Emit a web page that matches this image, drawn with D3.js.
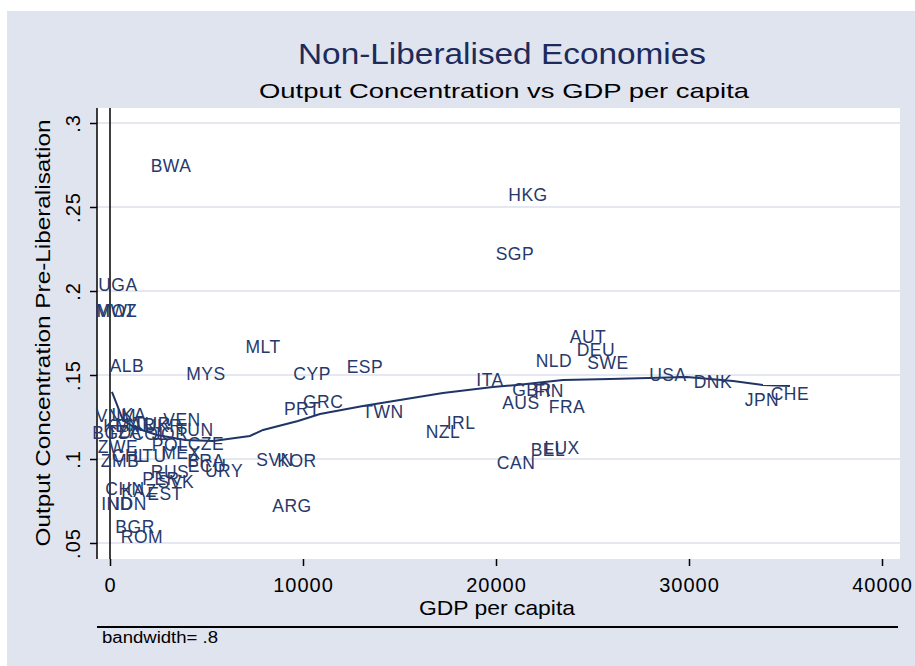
<!DOCTYPE html>
<html>
<head>
<meta charset="utf-8">
<script src="https://cdn.jsdelivr.net/npm/d3@7/dist/d3.min.js"></script>
<style>
body{margin:0;background:#fff}
text{font-family:"Liberation Sans",Arial,sans-serif}
</style>
</head>
<body>
<svg width="915" height="666"></svg>
<script>
// country labels with GDP per capita and output concentration
const countries = ['BWA','HKG','SGP','UGA','MWI','MOZ','ALB','MYS','MLT','CYP','ESP','PRT','GRC','TWN','NZL','IRL','SVN','KOR','ARG','URY',
  'ITA','AUT','DEU','NLD','SWE','GBR','FIN','AUS','FRA','BEL','LUX','CAN','USA','DNK','JPN','CHE',
  'VNM','LKA','KEN','MAR','TUR','UKR','VEN','BGD','TZA','COL','JOR','TUN','ZWE','POL','CZE','ZMB','CHL','LTU','MEX','BRA','ECU',
  'RUS','PER','SVK','CHN','KAZ','EST','IND','IDN','BGR','ROM']
const gdp = [3160,21660,20980,410,210,360,880,4970,7930,10470,13210,9950,11040,14140,17250,18190,8550,9690,9430,5910,
  19690,24770,25180,23000,25800,21860,22750,21290,23680,22690,23420,21040,28910,31240,33780,35230,
  310,980,620,1300,2180,2750,3730,100,730,2070,3110,4400,410,3110,4970,520,1040,2070,3680,4970,5030,
  3110,2640,3420,780,1500,2850,360,1090,1300,1660]
const conc = [.2744,.2571,.222,.2036,.1881,.1881,.1554,.1506,.1667,.1506,.1548,.1298,.1339,.128,.1161,.1214,.0994,.0988,.072,.0929,
  .147,.1726,.1649,.1583,.1571,.1411,.1405,.1333,.131,.1054,.1065,.0976,.15,.1458,.1351,.1387,
  .1256,.1262,.1196,.1202,.1208,.1196,.1232,.1155,.1161,.1149,.1149,.1173,.1071,.1083,.1089,.0988,.1018,.1018,.1036,.0988,.0958,
  .0923,.0881,.0863,.0821,.081,.0792,.0732,.0732,.0595,.0536]

// lowess smoother
const lowessGdp = [100,310,670,1300,2440,3890,5340,7250,7930,9740,10880,13110,17250,19840,21090,23470,25910,29890,32280,33830,35230]
const lowessConc = [.1399,.1339,.1232,.1185,.1143,.1113,.1107,.1137,.1173,.1226,.1268,.1315,.1393,.1429,.144,.147,.1476,.1488,.1464,.144,.1435]

const xTicks = [0,10000,20000,30000,40000]
const yTicks = [.05,.1,.15,.2,.25,.3]

const navy = '#27396b'
const plot = {left:97, right:900, top:108, bottom:559}

const svg = d3.select('svg')

const x = d3.scaleLinear().domain([0,40000]).range([110,882])
const y = d3.scaleLinear().domain([.05,.3]).range([543,123])

/* backgrounds */
svg.append('rect').attr('x',7).attr('y',11).attr('width',908).attr('height',655).attr('fill','#e0e4ef')
svg.append('rect').attr('x',plot.left).attr('y',plot.top)
  .attr('width',plot.right-plot.left).attr('height',plot.bottom-plot.top).attr('fill','#fff')

/* grid */
svg.append('g').selectAll('line').data(yTicks)
  .enter().append('line')
  .attr('x1',plot.left).attr('x2',plot.right)
  .attr('y1',d => y(d)).attr('y2',d => y(d))
  .attr('stroke','#dce1ec').attr('stroke-width',1.5)

/* axes */
const fmt = d => String(d).replace(/^0\./,'.')

const xAxis = svg.append('g').attr('transform',`translate(0,${plot.bottom})`)
  .call(d3.axisBottom(x).tickValues(xTicks).tickSize(7).tickFormat(fmt))
xAxis.select('.domain').remove()
xAxis.selectAll('line').attr('stroke','#000').attr('stroke-width',1.5)
xAxis.selectAll('text').attr('y',33).attr('dy',0)
  .attr('font-size',20).attr('letter-spacing',1).attr('fill','#000')

const yAxis = svg.append('g').attr('transform',`translate(${plot.left},0)`)
  .call(d3.axisLeft(y).tickValues(yTicks).tickSize(7).tickFormat(fmt))
yAxis.select('.domain').remove()
yAxis.selectAll('line').attr('stroke','#000').attr('stroke-width',1.5)
yAxis.selectAll('text')
  .attr('x',0).attr('y',0).attr('dy',0)
  .attr('transform','translate(-17,0) rotate(-90)')
  .attr('text-anchor','middle')
  .attr('font-size',20).attr('letter-spacing',1).attr('fill','#000')

svg.append('line').attr('x1',plot.left).attr('x2',plot.left)
  .attr('y1',plot.top).attr('y2',plot.bottom)
  .attr('stroke','#000').attr('stroke-width',1.5)
svg.append('line').attr('x1',x(0)).attr('x2',x(0))
  .attr('y1',plot.top).attr('y2',plot.bottom)
  .attr('stroke','#000').attr('stroke-width',1.5)

/* lowess */
const line = d3.line().x(d => x(d[0])).y(d => y(d[1]))
svg.append('path')
  .datum(lowessGdp.map((g,i) => [g,lowessConc[i]]))
  .attr('d',line)
  .attr('fill','none').attr('stroke','#1f3566').attr('stroke-width',2)

/* country labels */
svg.append('g').selectAll('text').data(countries)
  .enter().append('text')
  .attr('x',(d,i) => x(gdp[i]))
  .attr('y',(d,i) => y(conc[i]))
  .attr('dy','0.36em')
  .attr('text-anchor','middle')
  .attr('font-size',17.5).attr('letter-spacing',0.5)
  .attr('fill',navy)
  .text(d => d)

/* titles */
svg.append('text').attr('x',502).attr('y',64)
  .attr('text-anchor','middle').attr('font-size',29).attr('fill','#1c2b5a')
  .attr('textLength',408).attr('lengthAdjust','spacingAndGlyphs')
  .text('Non-Liberalised Economies')
svg.append('text').attr('x',504).attr('y',98)
  .attr('text-anchor','middle').attr('font-size',21).attr('fill','#000')
  .attr('textLength',490).attr('lengthAdjust','spacingAndGlyphs')
  .text('Output Concentration vs GDP per capita')
svg.append('text').attr('x',497).attr('y',615)
  .attr('text-anchor','middle').attr('font-size',21).attr('fill','#000')
  .attr('textLength',156).attr('lengthAdjust','spacingAndGlyphs')
  .text('GDP per capita')
svg.append('text').attr('transform','translate(50,333) rotate(-90)')
  .attr('text-anchor','middle').attr('font-size',21).attr('fill','#000')
  .attr('textLength',427).attr('lengthAdjust','spacingAndGlyphs')
  .text('Output Concentration Pre-Liberalisation')

/* note */
svg.append('line').attr('x1',97).attr('x2',898).attr('y1',627).attr('y2',627)
  .attr('stroke','#000').attr('stroke-width',2)
svg.append('text').attr('x',102).attr('y',643)
  .attr('font-size',16).attr('fill','#000')
  .attr('textLength',116).attr('lengthAdjust','spacingAndGlyphs')
  .text('bandwidth= .8')
</script>
</body>
</html>
